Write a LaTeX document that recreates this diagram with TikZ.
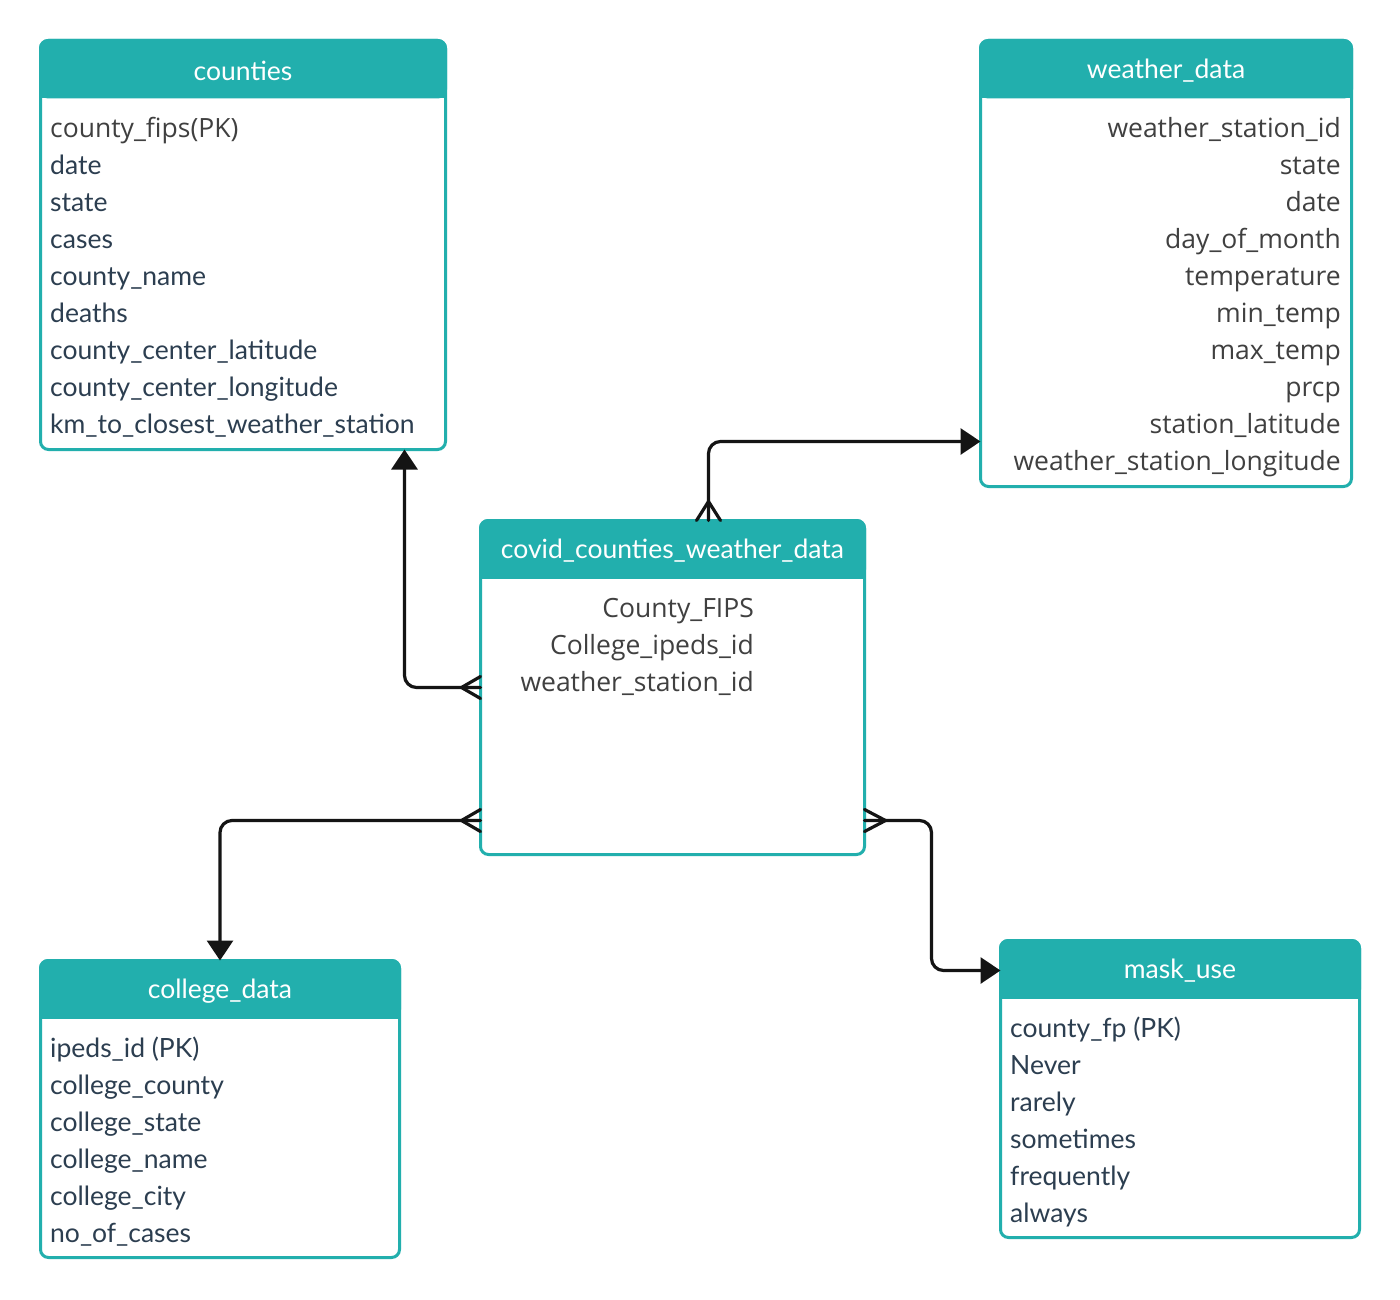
\documentclass[tikz,border=0pt]{standalone}
\usepackage{fontspec}
\usetikzlibrary{arrows.meta,calc}
\newfontfamily\latofont{Lato}
\newfontfamily\osfont{Open Sans}
\definecolor{tealhd}{HTML}{22AFAD}
\definecolor{navytxt}{HTML}{2C3E50}
\definecolor{graytxt}{HTML}{404040}
\definecolor{inkline}{HTML}{141414}

\tikzset{
  tbl/.style={draw=tealhd, fill=white, line width=3pt, rounded corners=8pt, inner sep=0pt, outer sep=0pt},
  hdtext/.style={text=white, font=\latofont\fontsize{26.5}{30}\selectfont, inner sep=0pt},
  navyrow/.style={text=navytxt, font=\latofont\fontsize{26.5}{30}\selectfont, inner sep=0pt, anchor=mid west},
  grayrow/.style={text=graytxt, font=\osfont\fontsize{26.5}{30}\selectfont, inner sep=0pt, anchor=mid west},
  grayrowr/.style={text=graytxt, font=\osfont\fontsize{26.5}{30}\selectfont, inner sep=0pt, anchor=mid east},
  link/.style={draw=inkline, line width=3.2pt, rounded corners=12pt, line cap=round, line join=round},
  tip/.style={-{Triangle[length=20pt,width=26pt]}},
}

% teal header band with rounded top corners over a table box
\newcommand{\tblheader}[1]{%
  \fill[tealhd, rounded corners=9pt] ([xshift=-1.5pt,yshift=1.5pt]#1.north west) rectangle ([xshift=1.5pt,yshift=-58pt]#1.north east);
  \fill[tealhd] ([xshift=-1.5pt,yshift=-30pt]#1.north west) rectangle ([xshift=1.5pt,yshift=-58pt]#1.north east);
}

\begin{document}
\begin{tikzpicture}[x=1pt,y=-1pt]
\useasboundingbox[fill=white] (0,0) rectangle (1400,1300);

% ---- tables ----
\node[tbl, minimum width=405pt, minimum height=409pt] (counties) at (243,245) {};
\node[tbl, minimum width=371pt, minimum height=446pt] (weather) at (1166,263.5) {};
\node[tbl, minimum width=384pt, minimum height=334pt] (covid) at (672.5,687.5) {};
\node[tbl, minimum width=359pt, minimum height=297pt] (college) at (220,1109) {};
\node[tbl, minimum width=359pt, minimum height=297pt] (mask) at (1180,1089) {};

\tblheader{counties}
\tblheader{weather}
\tblheader{covid}
\tblheader{college}
\tblheader{mask}

% ---- titles ----
\node[hdtext] (countiesT) at (243,71) {counties};
\node[hdtext] (weatherT) at (1166,71) {weather\_data};
\node[hdtext] (covidT) at (672.5,551) {covid\_counties\_weather\_data};
\node[hdtext] (collegeT) at (220,991) {college\_data};
\node[hdtext] (maskT) at (1180,971) {mask\_use};

% ---- counties fields ----
\node[grayrow] (cf1) at (50,135) {county\_fips(PK)};
\foreach \t [count=\i from 2] in {date,state,cases,county\_name,deaths,county\_center\_latitude,county\_center\_longitude,km\_to\_closest\_weather\_station}
  \node[navyrow] (cf\i) at (50,{98+37*\i}) {\t};

% ---- weather_data fields ----
\foreach \t [count=\i from 1] in {weather\_station\_id,state,date,day\_of\_month,temperature,min\_temp,max\_temp,prcp,station\_latitude,weather\_station\_longitude}
  \node[grayrowr] (wf\i) at (1341,{98+37*\i}) {\t};

% ---- covid_counties_weather_data fields ----
\foreach \t [count=\i from 1] in {County\_FIPS,College\_ipeds\_id,weather\_station\_id}
  \node[grayrowr] (vf\i) at (754,{578+37*\i}) {\t};

% ---- college_data fields ----
\foreach \t [count=\i from 1] in {ipeds\_id (PK),college\_county,college\_state,college\_name,college\_city,no\_of\_cases}
  \node[navyrow] (gf\i) at (50,{1018+37*\i}) {\t};

% ---- mask_use fields ----
\foreach \t [count=\i from 1] in {county\_fp (PK),Never,rarely,sometimes,frequently,always}
  \node[navyrow] (mf\i) at (1010,{998+37*\i}) {\t};

% ---- relationships ----
% covid -> counties
\draw[link, tip] (covid.west) -| ([xshift=-41pt]counties.south east);
\draw[link] ([xshift=-19pt]covid.west) -- ([yshift=11pt]covid.west);
\draw[link] ([xshift=-19pt]covid.west) -- ([yshift=-11pt]covid.west);

% covid -> weather_data
\draw[link, tip] ([xshift=36pt]covid.north) |- ([yshift=45pt]weather.south west);
\draw[link] ([xshift=36pt,yshift=19pt]covid.north) -- ([xshift=24pt]covid.north);
\draw[link] ([xshift=36pt,yshift=19pt]covid.north) -- ([xshift=48pt]covid.north);

% covid -> college_data
\draw[link, tip] ([yshift=34pt]covid.south west) -| (college.north);
\draw[link] ([xshift=-19pt,yshift=34pt]covid.south west) -- ([yshift=45pt]covid.south west);
\draw[link] ([xshift=-19pt,yshift=34pt]covid.south west) -- ([yshift=23pt]covid.south west);

% covid -> mask_use
\draw[link, tip] ([yshift=34pt]covid.south east) -- ++(67,0) |- ([yshift=-30pt]mask.north west);
\draw[link] ([xshift=21pt,yshift=34pt]covid.south east) -- ([yshift=45pt]covid.south east);
\draw[link] ([xshift=21pt,yshift=34pt]covid.south east) -- ([yshift=23pt]covid.south east);
\end{tikzpicture}
\end{document}
